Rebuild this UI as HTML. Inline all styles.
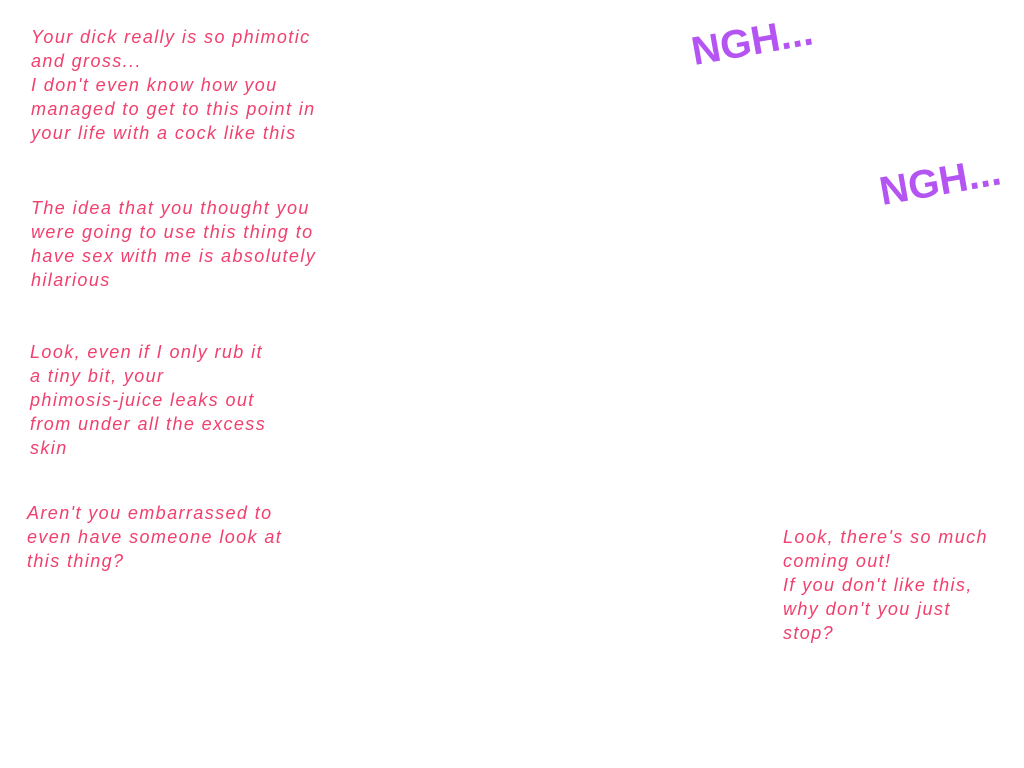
<!DOCTYPE html>
<html><head><meta charset="utf-8"><style>
html,body{margin:0;padding:0;background:#fff;width:1024px;height:768px;overflow:hidden;position:relative}
.t{position:absolute;font-family:"Liberation Sans",sans-serif;font-size:18px;line-height:24px;color:#f0406e;font-style:italic;white-space:nowrap;letter-spacing:1.4px}
.n{position:absolute;font-family:"Liberation Sans",sans-serif;font-weight:bold;font-size:40px;color:#b454f2;transform:rotate(-10deg);transform-origin:left bottom;white-space:nowrap;letter-spacing:0}
</style></head><body>
<div class="t" style="left:31px;top:25px">Your dick really is so phimotic<br>and gross...<br>I don't even know how you<br>managed to get to this point in<br>your life with a cock like this</div>
<div class="t" style="left:31px;top:196px">The idea that you thought you<br>were going to use this thing to<br>have sex with me is absolutely<br>hilarious</div>
<div class="t" style="left:30px;top:340px">Look, even if I only rub it<br>a tiny bit, your<br>phimosis-juice leaks out<br>from under all the excess<br>skin</div>
<div class="t" style="left:27px;top:501px">Aren't you embarrassed to<br>even have someone look at<br>this thing?</div>
<div class="t" style="left:783px;top:525px">Look, there's so much<br>coming out!<br>If you don't like this,<br>why don't you just<br>stop?</div>
<div class="n" style="left:696px;top:30px">NGH...</div>
<div class="n" style="left:884px;top:170px">NGH...</div>
</body></html>
